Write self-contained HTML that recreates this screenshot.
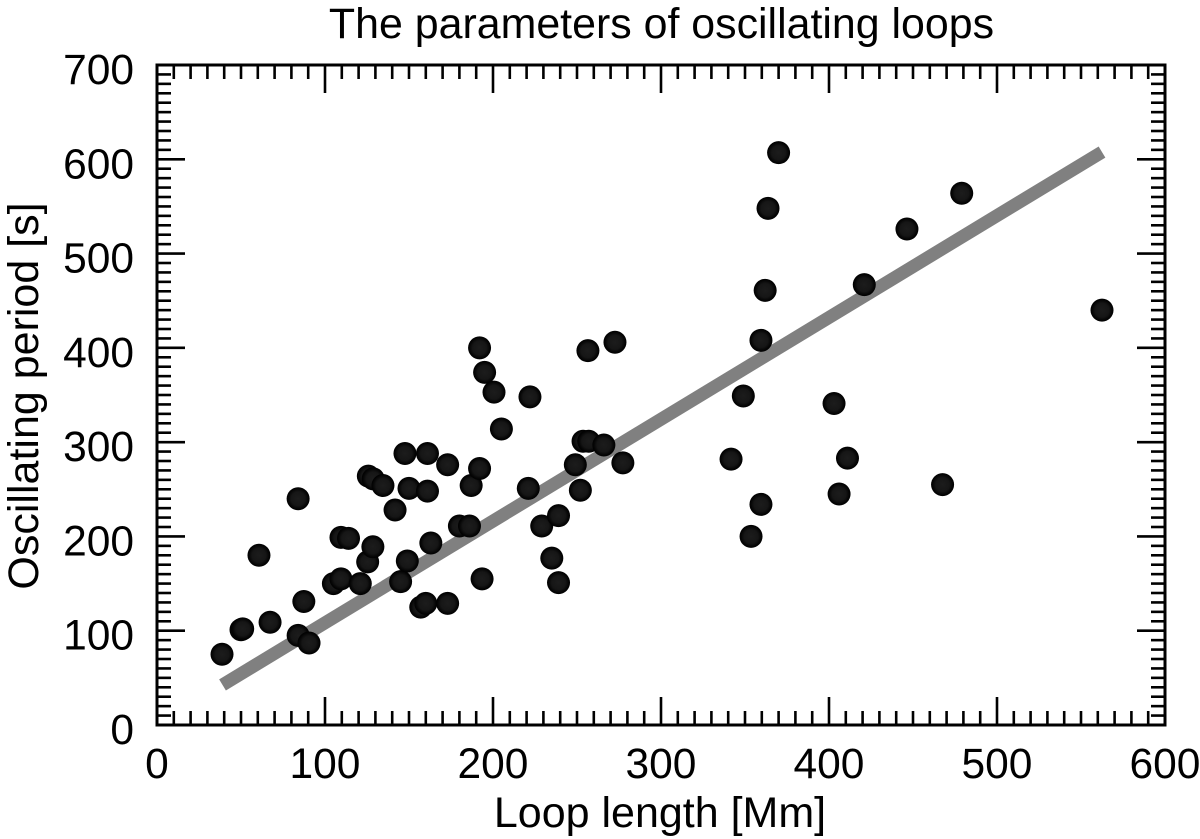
<!DOCTYPE html>
<html>
<head>
<meta charset="utf-8">
<title>The parameters of oscillating loops</title>
<style>
html,body{margin:0;padding:0;background:#fff;width:1200px;height:839px;overflow:hidden}
svg{display:block}
text{font-family:"Liberation Sans",sans-serif;fill:#000}
</style>
</head>
<body>
<svg id="chart" width="1200" height="839" viewBox="0 0 1200 839" xmlns="http://www.w3.org/2000/svg">
<defs>
<radialGradient id="dot" cx="50%" cy="50%" r="50%">
<stop offset="0" stop-color="#1c1c1c"/>
<stop offset="0.6" stop-color="#161616"/>
<stop offset="0.85" stop-color="#060606"/>
<stop offset="1" stop-color="#000"/>
</radialGradient>
</defs>
<text x="661.5" y="38" font-size="42.9" text-anchor="middle">The parameters of oscillating loops</text>
<text x="660" y="827" font-size="43" text-anchor="middle">Loop length [Mm]</text>
<text transform="translate(38,396) rotate(-90)" font-size="43" text-anchor="middle">Oscillating period [s]</text>
<g id="fit"></g>
<g id="points"></g>
<g id="axes"></g>
</svg>
<script>
const xTicks = [0, 100, 200, 300, 400, 500, 600];
const yTicks = [0, 100, 200, 300, 400, 500, 600, 700];
const fitX = [39, 562.5];
const fitY = [42.5, 607.7];
const lengths = [38.7,50,51,60.7,67.3,84,84,87.4,90.5,105,109.5,109.5,114,121,125.4,128.5,125.8,128.7,134.5,141.7,145,147.6,149,150,157,160,161,161,163,173,173,180,186,187,192,193.5,192,195,200.6,205,222,221,229,235,239,239,249,252,253.6,257,256.5,266,272.6,277.3,341.7,349,353.6,359.5,359.5,362,363.7,370,403,406,411,421,446.4,467.6,479,562.5];
const periods = [75,101,102,180,109,240,95,131,87,150,155,199,198,150,173,189,264,261,254,228,152,288,174,251,125,129,288,248,193,129,276,211,211,254,272,155,400,374,353,314,348,251,211,177,222,151,276,249,301,301,397,297,406,278,282,349,200,234,408,461,548,607,341,245,283,467,526,255,564,440];

const NS = 'http://www.w3.org/2000/svg';
const LEFT = 157, RIGHT = 1165, TOP = 65, BOTTOM = 725;
const sx = v => LEFT + (v / 600) * (RIGHT - LEFT);
const sy = v => BOTTOM - (v / 700) * (BOTTOM - TOP);

function mk(tag, attrs, parent) {
  const el = document.createElementNS(NS, tag);
  for (const k in attrs) el.setAttribute(k, attrs[k]);
  parent.appendChild(el);
  return el;
}

const fitG = document.getElementById('fit');
const fit = mk('line', {x1: sx(fitX[0]), y1: sy(fitY[0]), x2: sx(fitX[1]), y2: sy(fitY[1]), stroke: '#808080', 'stroke-width': 13}, fitG);



const ptsG = document.getElementById('points');
lengths.forEach((x, i) => {
  const c = mk('circle', {cx: sx(x), cy: sy(periods[i]), r: 11.5, fill: 'url(#dot)'}, ptsG);
  
  
});

const ax = document.getElementById('axes');
const frame = mk('rect', {x: LEFT, y: TOP, width: RIGHT - LEFT, height: BOTTOM - TOP, fill: 'none', stroke: '#000', 'stroke-width': 3}, ax);



const tickStyle = {stroke: '#000', 'stroke-width': 2.6};
function tick(x1, y1, x2, y2) {
  const l = mk('line', Object.assign({x1, y1, x2, y2}, tickStyle), ax);
  
  
}
for (let v = 0; v <= 600; v += 10) {
  const len = v % 100 === 0 ? 28 : 14;
  const x = sx(v);
  tick(x, BOTTOM, x, BOTTOM - len);
  tick(x, TOP, x, TOP + len);
}
for (let v = 0; v <= 700; v += 10) {
  const len = v % 100 === 0 ? 28 : 14;
  const y = sy(v);
  tick(LEFT, y, LEFT + len, y);
  tick(RIGHT, y, RIGHT - len, y);
}
xTicks.forEach(v => {
  const t = mk('text', {x: sx(v), y: 778, 'font-size': 42.5, 'text-anchor': 'middle'}, ax);
  t.textContent = v;
  
  
});
yTicks.forEach(v => {
  const t = mk('text', {x: 134, y: sy(v) + 19, 'font-size': 42.5, 'text-anchor': 'end'}, ax);
  t.textContent = v;
  
  
});
</script>
</body>
</html>
